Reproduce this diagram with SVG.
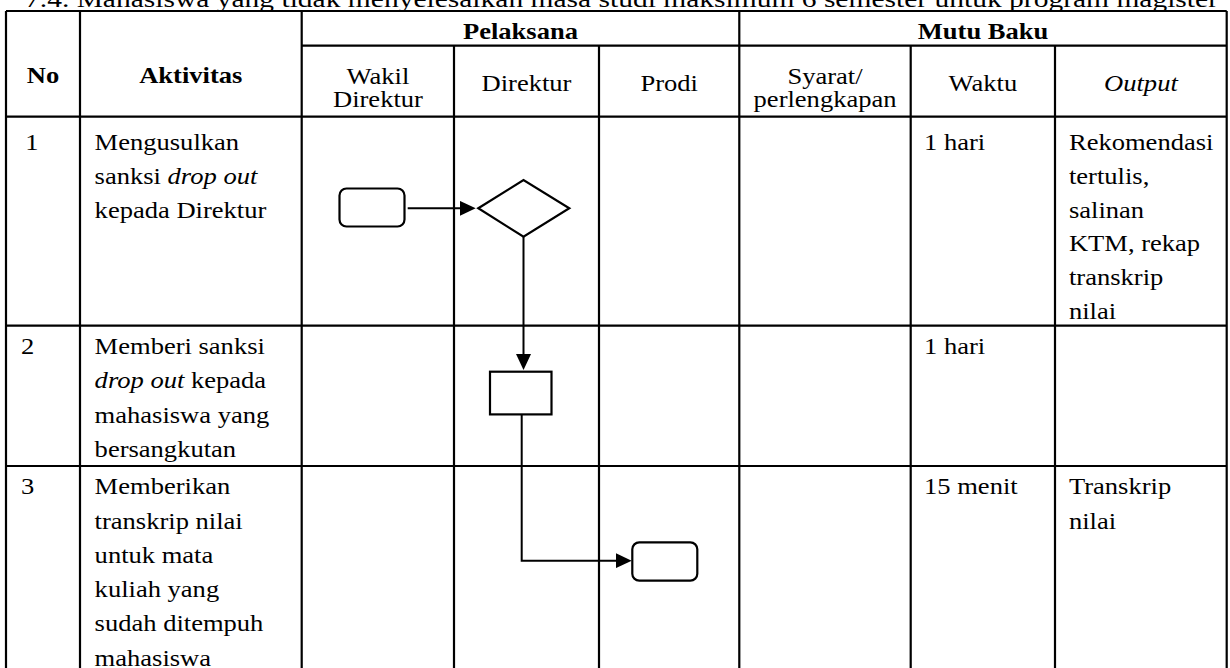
<svg xmlns="http://www.w3.org/2000/svg" width="1230" height="668" viewBox="0 0 1230 668">
  <style>
    .grid { stroke: #000; stroke-width: 2.2; fill: none; }
    .shape { stroke: #000; stroke-width: 2.2; fill: #fff; }
    .conn { stroke: #000; stroke-width: 2; fill: none; }
    text { font-family: "Liberation Serif", "Times New Roman", serif; font-size: 22.5px; fill: #000; }
    .b { font-weight: bold; }
    .c { text-anchor: middle; }
    .i { font-style: italic; }
  </style>
  <defs>
    <marker id="arrow" markerUnits="userSpaceOnUse" markerWidth="16" markerHeight="15" refX="10" refY="7.5" orient="auto">
      <path d="M0,0 L16,7.5 L0,15 z" fill="#000"/>
    </marker>
  </defs>

  <rect width="1230" height="668" fill="#fff"/>

  <!-- table grid -->
  <g id="table-grid" class="grid">
    <path d="M6,11 H1226.7 M301.7,45.7 H1226.7 M6,116.7 H1226.7 M6,325.7 H1226.7 M6,466 H1226.7"/>
    <path d="M6,11 V668 M80,11 V668 M301.7,11 V668 M739.3,11 V668 M1226.7,11 V668"/>
    <path d="M454,45.7 V668 M599,45.7 V668 M910.7,45.7 V668 M1055,45.7 V668"/>
  </g>

  <!-- text is set in a horizontally widened frame -->
  <g id="texts" transform="scale(1.18 1)">
    <text id="title" x="21.2" y="6.5" textLength="1011" lengthAdjust="spacingAndGlyphs">7.4. Mahasiswa yang tidak menyelesaikan masa studi maksimum 6 semester untuk program magister</text>

    <g id="header">
      <text class="b c" x="441.1" y="39">Pelaksana</text>
      <text class="b c" x="833.1" y="39">Mutu Baku</text>
      <text class="b c" x="36.4" y="83">No</text>
      <text class="b c" x="161.7" y="83">Aktivitas</text>
      <text class="c" x="320.3" y="84">Wakil</text>
      <text class="c" x="320.3" y="107.5">Direktur</text>
      <text class="c" x="446.2" y="91.5">Direktur</text>
      <text class="c" x="567.1" y="91.5">Prodi</text>
      <text class="c" x="699.2" y="84">Syarat/</text>
      <text class="c" x="699.2" y="107.5">perlengkapan</text>
      <text class="c" x="833" y="91.5">Waktu</text>
      <text class="c i" x="966.9" y="91.5">Output</text>
    </g>

    <g id="row-1">
      <text x="21.4" y="150">1</text>
      <text x="80.2" y="150">Mengusulkan</text>
      <text x="80.2" y="183.8">sanksi <tspan class="i">drop out</tspan></text>
      <text x="80.2" y="217.6">kepada Direktur</text>
      <text x="783.1" y="150">1 hari</text>
      <text x="905.9" y="150">Rekomendasi</text>
      <text x="905.9" y="183.8">tertulis,</text>
      <text x="905.9" y="217.6">salinan</text>
      <text x="905.9" y="251.4">KTM, rekap</text>
      <text x="905.9" y="285.2">transkrip</text>
      <text x="905.9" y="319">nilai</text>
    </g>

    <g id="row-2">
      <text x="17.8" y="354">2</text>
      <text x="80.2" y="354">Memberi sanksi</text>
      <text x="80.2" y="388.3"><tspan class="i">drop out</tspan> kepada</text>
      <text x="80.2" y="422.6">mahasiswa yang</text>
      <text x="80.2" y="456.9">bersangkutan</text>
      <text x="783.1" y="354">1 hari</text>
    </g>

    <g id="row-3">
      <text x="17.8" y="494.3">3</text>
      <text x="80.2" y="494.3">Memberikan</text>
      <text x="80.2" y="528.6">transkrip nilai</text>
      <text x="80.2" y="562.9">untuk mata</text>
      <text x="80.2" y="597.2">kuliah yang</text>
      <text x="80.2" y="631.5">sudah ditempuh</text>
      <text x="80.2" y="665.8">mahasiswa</text>
      <text x="783.1" y="494.3">15 menit</text>
      <text x="905.9" y="494.3">Transkrip</text>
      <text x="905.9" y="528.6">nilai</text>
    </g>
  </g>

  <!-- flow nodes -->
  <g id="node-start">
    <rect class="shape" x="339.5" y="188.5" width="65" height="38" rx="7"/>
  </g>
  <g id="node-decision">
    <polygon class="shape" points="478.3,208.3 523.5,180 569.3,208.3 523.5,236.7"/>
  </g>
  <g id="node-process">
    <rect class="shape" x="490" y="371.7" width="61.5" height="42.7"/>
  </g>
  <g id="node-end">
    <rect class="shape" x="632.3" y="542.3" width="65" height="38.4" rx="7"/>
  </g>

  <!-- connectors -->
  <g id="connectors" class="conn">
    <path d="M407.7,208.3 H469.7" marker-end="url(#arrow)"/>
    <path d="M523.5,236.7 V364" marker-end="url(#arrow)"/>
    <path d="M521.7,414.3 V560.7 H625.7" marker-end="url(#arrow)"/>
  </g>
</svg>
